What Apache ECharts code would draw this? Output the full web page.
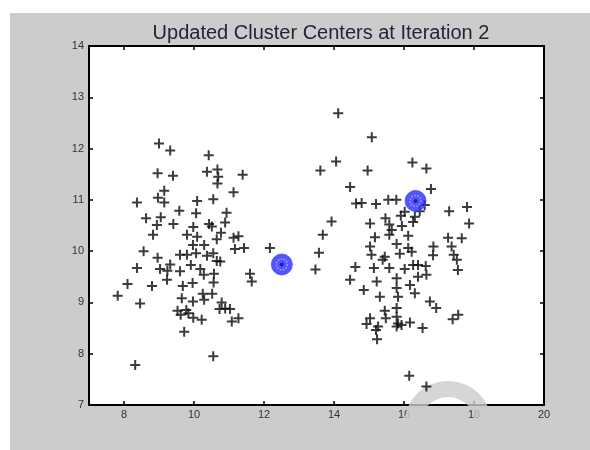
<!DOCTYPE html>
<html>
<head>
<meta charset="utf-8">
<script src="https://cdn.jsdelivr.net/npm/echarts@6/dist/echarts.min.js"></script>
<style>html,body{margin:0;padding:0;background:#fff}#c{width:590px;height:450px}</style>
</head>
<body>
<div id="c"></div>
<script>
const titleText = 'Updated Cluster Centers at Iteration 2';
const xTicks = [8, 10, 12, 14, 16, 18, 20];
const yTicks = [7, 8, 9, 10, 11, 12, 13, 14];

const clusterAX = [9.00,9.32,10.42,8.96,9.40,10.37,10.67,10.69,10.67,11.39,9.15,8.97,9.15,8.37,10.09,10.55,11.13,9.58,8.63,9.05,10.06,10.93,8.94,9.41,9.98,10.43,10.51,10.89,8.83,9.80,10.09,10.65,10.77,11.13,11.27,11.17,11.43,8.56,9.97,10.29,10.06,9.60,9.80,10.37,10.55,10.65,10.75,8.96,8.37,9.03,9.32,9.24,9.60,9.91,10.18,10.28,10.57,10.56,11.60,11.65,9.23,8.10,8.80,9.68,9.96,7.82,8.46,9.65,9.97,10.25,10.29,10.52,10.79,10.89,10.73,11.03,9.53,9.78,9.84,9.62,9.98,10.22,11.08,11.27,9.72,10.55,8.32,12.17];
const clusterAY = [12.10,11.96,11.87,11.52,11.47,11.55,11.59,11.45,11.32,11.49,11.18,11.04,10.95,10.95,10.98,11.01,11.15,10.79,10.64,10.66,10.74,10.75,10.51,10.53,10.47,10.53,10.48,10.56,10.32,10.32,10.28,10.23,10.36,10.26,10.29,10.04,10.06,10.00,10.12,10.12,9.96,9.93,9.93,9.91,9.96,9.81,9.80,9.87,9.67,9.65,9.74,9.62,9.61,9.73,9.65,9.54,9.56,9.39,9.56,9.41,9.44,9.36,9.32,9.32,9.38,9.13,8.98,9.08,9.02,9.17,9.05,9.17,9.00,8.88,8.87,8.87,8.84,8.85,8.79,8.76,8.70,8.66,8.63,8.69,8.43,7.95,7.78,10.06];

const clusterBX = [14.12,15.08,14.06,13.61,14.96,16.24,16.64,14.46,16.77,14.63,14.79,15.20,15.55,15.78,16.59,17.29,13.93,15.03,15.47,15.58,15.91,16.02,16.31,16.26,16.45,17.80,17.86,13.68,15.17,15.58,16.12,15.65,15.94,15.03,15.79,16.12,17.26,17.65,16.84,17.36,13.57,15.07,15.45,15.88,16.22,16.83,17.42,17.51,17.54,13.47,14.61,15.39,15.14,15.58,16.02,16.26,16.40,16.62,16.64,16.40,14.46,15.22,15.79,16.17,14.85,15.79,16.31,15.31,15.83,16.74,16.92,15.45,15.79,15.03,15.48,15.79,14.93,15.26,15.83,15.93,16.17,16.53,15.20,15.23,17.39,17.55,16.15,16.64,15.79];
const clusterBY = [12.69,12.22,11.75,11.57,11.57,11.73,11.61,11.25,11.21,10.93,10.94,10.92,11.00,11.00,10.90,10.78,10.58,10.54,10.64,10.52,10.69,10.77,10.67,10.57,10.78,10.86,10.54,10.32,10.27,10.32,10.30,10.41,10.49,10.09,10.14,10.06,10.26,10.25,10.09,10.09,9.97,9.93,9.89,9.95,9.99,9.92,9.93,9.83,9.63,9.64,9.69,9.83,9.67,9.67,9.65,9.73,9.73,9.71,9.54,9.50,9.44,9.41,9.47,9.34,9.24,9.28,9.18,9.11,9.11,9.02,8.89,8.84,8.89,8.69,8.69,8.72,8.58,8.53,8.59,8.56,8.61,8.50,8.46,8.28,8.67,8.76,7.57,7.36,8.53];

const centersX = [12.51, 16.33];
const centersY = [9.74, 10.98];

const zip = (xs, ys) => xs.map((x, i) => [x, ys[i]]);
const pointsData = zip(clusterAX, clusterAY).concat(zip(clusterBX, clusterBY));
const centersData = zip(centersX, centersY);

const FONT = '"Liberation Sans", Arial, Helvetica, sans-serif';
const crossPath = 'path://M4,0H6V4H10V6H6V10H4V6H0V4H4Z';

function xAxisCfg(pos, showLabels) {
  return {
    type: 'value', position: pos, min: 7, max: 20,
    axisLine: { show: true, onZero: false, lineStyle: { color: '#000', width: 2 } },
    axisTick: { show: true, inside: true, length: 4, customValues: xTicks, lineStyle: { color: '#000', width: 1.5 } },
    axisLabel: { show: showLabels, customValues: xTicks, fontSize: 11, color: '#333', fontFamily: FONT, margin: 4 },
    splitLine: { show: false }
  };
}
function yAxisCfg(pos, showLabels) {
  return {
    type: 'value', position: pos, min: 7, max: 14, interval: 1,
    axisLine: { show: true, onZero: false, lineStyle: { color: '#000', width: 2 } },
    axisTick: { show: true, inside: true, length: 4, lineStyle: { color: '#000', width: 1.5 } },
    axisLabel: { show: showLabels, fontSize: 11, color: '#333', fontFamily: FONT, margin: 5 },
    splitLine: { show: false }
  };
}

const chart = echarts.init(document.getElementById('c'), null, { renderer: 'canvas' });
chart.setOption({
  animation: false,
  backgroundColor: '#fff',
  title: {
    text: titleText, left: 316, top: 18, textAlign: 'center',
    textStyle: { fontFamily: FONT, fontSize: 20, fontWeight: 'normal', color: '#23233a' }
  },
  graphic: {
    elements: [
      { type: 'rect', z: -100, silent: true, shape: { x: 10, y: 13, width: 580, height: 437 }, style: { fill: '#cccccc' } },
      { type: 'ring', z: 1, silent: true, shape: { cx: 448, cy: 425, r: 44, r0: 28 }, style: { fill: 'rgba(204,204,204,0.8)' } }
    ]
  },
  grid: { left: 89, right: 46, top: 46, bottom: 45, show: true, backgroundColor: '#fff', borderWidth: 0 },
  xAxis: [xAxisCfg('bottom', true), xAxisCfg('top', false)],
  yAxis: [yAxisCfg('left', true), yAxisCfg('right', false)],
  series: [
    {
      type: 'scatter', data: pointsData, symbol: crossPath, symbolSize: 10,
      itemStyle: { color: '#0a0a0a' }, z: 2
    },
    {
      type: 'scatter', data: centersData, symbol: 'circle', symbolSize: 21,
      itemStyle: { color: '#2b2bff', borderColor: '#4a4aff', borderWidth: 1 }, z: 3
    },
    {
      type: 'scatter', data: centersData, symbol: 'circle', symbolSize: 11,
      itemStyle: { color: 'rgba(0,0,0,0)', borderColor: '#b0b0ff', borderWidth: 1.5, borderType: 'dotted' }, z: 4
    },
    {
      type: 'scatter', data: centersData, symbol: 'circle', symbolSize: 4,
      itemStyle: { color: '#0a0ab0' }, z: 5
    }
  ]
});
</script>
</body>
</html>
